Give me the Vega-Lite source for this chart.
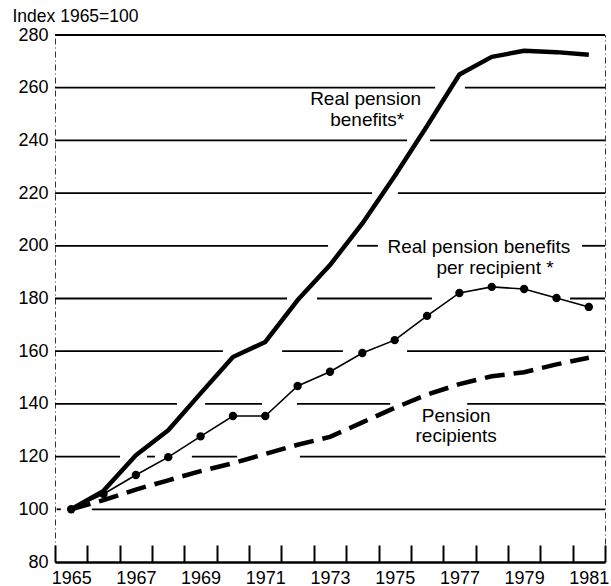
{
  "$schema": "https://vega.github.io/schema/vega-lite/v6.json",
  "width": 550,
  "height": 527,
  "autosize": {"type": "none"},
  "padding": {"left": 55, "top": 35, "right": 6, "bottom": 24},
  "background": "white",
  "config": {
    "view": {"stroke": "#333", "strokeWidth": 1, "strokeDash": [6, 3, 1, 3]},
    "font": "Liberation Sans"
  },
  "datasets": {
    "grid": [
      {"value": 100, "from": 1964.55, "to": 1964.68},
      {"value": 100, "from": 1965.64, "to": 1981.5},
      {"value": 120, "from": 1964.5, "to": 1966.51},
      {"value": 120, "from": 1967.34, "to": 1967.59},
      {"value": 120, "from": 1968.73, "to": 1970.13},
      {"value": 120, "from": 1972.07, "to": 1981.5},
      {"value": 140, "from": 1964.5, "to": 1968.27},
      {"value": 140, "from": 1969.14, "to": 1970.9},
      {"value": 140, "from": 1971.98, "to": 1974.86},
      {"value": 140, "from": 1977.24, "to": 1981.5},
      {"value": 160, "from": 1964.5, "to": 1969.69},
      {"value": 160, "from": 1971.52, "to": 1973.4},
      {"value": 160, "from": 1975.38, "to": 1981.5},
      {"value": 180, "from": 1964.5, "to": 1971.67},
      {"value": 180, "from": 1972.6, "to": 1976.15},
      {"value": 180, "from": 1980.42, "to": 1981.5},
      {"value": 200, "from": 1964.5, "to": 1972.94},
      {"value": 200, "from": 1973.84, "to": 1974.48},
      {"value": 200, "from": 1980.79, "to": 1981.5},
      {"value": 220, "from": 1964.5, "to": 1974.3},
      {"value": 220, "from": 1975.1, "to": 1981.5},
      {"value": 240, "from": 1964.5, "to": 1975.38},
      {"value": 240, "from": 1976.09, "to": 1981.5},
      {"value": 260, "from": 1964.5, "to": 1976.25},
      {"value": 260, "from": 1977.17, "to": 1981.5},
      {"value": 280, "from": 1964.5, "to": 1981.5}
    ],
    "series": [
      {"year": 1965, "series": "benefits", "value": 100},
      {"year": 1966, "series": "benefits", "value": 107},
      {"year": 1967, "series": "benefits", "value": 120.5},
      {"year": 1968, "series": "benefits", "value": 130},
      {"year": 1969, "series": "benefits", "value": 144},
      {"year": 1970, "series": "benefits", "value": 157.8},
      {"year": 1971, "series": "benefits", "value": 163.5},
      {"year": 1972, "series": "benefits", "value": 179.4},
      {"year": 1973, "series": "benefits", "value": 192.7},
      {"year": 1974, "series": "benefits", "value": 208.5},
      {"year": 1975, "series": "benefits", "value": 226.5},
      {"year": 1976, "series": "benefits", "value": 245.5},
      {"year": 1977, "series": "benefits", "value": 265},
      {"year": 1978, "series": "benefits", "value": 271.7},
      {"year": 1979, "series": "benefits", "value": 274},
      {"year": 1980, "series": "benefits", "value": 273.5},
      {"year": 1981, "series": "benefits", "value": 272.5},
      {"year": 1965, "series": "perRecipient", "value": 100},
      {"year": 1966, "series": "perRecipient", "value": 105.8},
      {"year": 1967, "series": "perRecipient", "value": 113},
      {"year": 1968, "series": "perRecipient", "value": 119.8},
      {"year": 1969, "series": "perRecipient", "value": 127.7},
      {"year": 1970, "series": "perRecipient", "value": 135.4},
      {"year": 1971, "series": "perRecipient", "value": 135.4},
      {"year": 1972, "series": "perRecipient", "value": 146.8},
      {"year": 1973, "series": "perRecipient", "value": 152.2},
      {"year": 1974, "series": "perRecipient", "value": 159.3},
      {"year": 1975, "series": "perRecipient", "value": 164.2},
      {"year": 1976, "series": "perRecipient", "value": 173.4},
      {"year": 1977, "series": "perRecipient", "value": 182.1},
      {"year": 1978, "series": "perRecipient", "value": 184.4},
      {"year": 1979, "series": "perRecipient", "value": 183.6},
      {"year": 1980, "series": "perRecipient", "value": 180.2},
      {"year": 1981, "series": "perRecipient", "value": 176.8},
      {"year": 1965, "series": "recipients", "value": 100},
      {"year": 1966, "series": "recipients", "value": 103.5},
      {"year": 1967, "series": "recipients", "value": 107.5},
      {"year": 1968, "series": "recipients", "value": 111},
      {"year": 1969, "series": "recipients", "value": 114.5},
      {"year": 1970, "series": "recipients", "value": 117.5},
      {"year": 1971, "series": "recipients", "value": 121},
      {"year": 1972, "series": "recipients", "value": 124.5},
      {"year": 1973, "series": "recipients", "value": 127.5},
      {"year": 1974, "series": "recipients", "value": 133},
      {"year": 1975, "series": "recipients", "value": 138.5},
      {"year": 1976, "series": "recipients", "value": 143.5},
      {"year": 1977, "series": "recipients", "value": 147.5},
      {"year": 1978, "series": "recipients", "value": 150.5},
      {"year": 1979, "series": "recipients", "value": 152},
      {"year": 1980, "series": "recipients", "value": 155},
      {"year": 1981, "series": "recipients", "value": 157.5}
    ],
    "labels": [
      {"year": 1974.1, "value": 255.7, "label": "Real pension"},
      {"year": 1974.15, "value": 247.7, "label": "benefits*"},
      {"year": 1977.6, "value": 199.5, "label": "Real pension benefits"},
      {"year": 1978.1, "value": 191.6, "label": "per recipient *"},
      {"year": 1976.9, "value": 135.4, "label": "Pension"},
      {"year": 1976.9, "value": 127.8, "label": "recipients"}
    ]
  },
  "resolve": {"axis": {"x": "independent"}},
  "layer": [
    {
      "data": {"name": "grid"},
      "mark": {"type": "rule", "color": "black", "strokeWidth": 1.8},
      "encoding": {
        "x": {
          "field": "from", "type": "quantitative",
          "scale": {"domain": [1964.5, 1981.5], "nice": false, "zero": false},
          "axis": {
            "orient": "bottom",
            "values": [1964.5, 1965.5, 1966.5, 1967.5, 1968.5, 1969.5, 1970.5, 1971.5, 1972.5, 1973.5, 1974.5, 1975.5, 1976.5, 1977.5, 1978.5, 1979.5, 1980.5, 1981.5],
            "tickSize": -17, "tickWidth": 2, "tickColor": "black",
            "domainColor": "black", "domainWidth": 2.5,
            "labels": false, "grid": false, "title": null
          }
        },
        "x2": {"field": "to"},
        "y": {
          "field": "value", "type": "quantitative",
          "scale": {"domain": [80, 280], "nice": false, "zero": false},
          "axis": {
            "values": [80, 100, 120, 140, 160, 180, 200, 220, 240, 260, 280],
            "grid": false, "domain": false, "ticks": false, "tickSize": 0,
            "labelPadding": 7, "labelFontSize": 18, "labelFont": "Liberation Sans", "labelColor": "black",
            "title": "Index 1965=100", "titleAngle": 0, "titleAlign": "left", "titleBaseline": "alphabetic",
            "titleX": -43, "titleY": -14, "titleFontSize": 17.5, "titleFontWeight": "normal",
            "titleFont": "Liberation Sans", "titleColor": "black"
          }
        }
      }
    },
    {
      "data": {"name": "series"},
      "transform": [{"filter": "datum.series == 'benefits'"}],
      "mark": {"type": "line", "color": "black", "strokeWidth": 4.5, "strokeJoin": "round"},
      "encoding": {
        "x": {
          "field": "year", "type": "quantitative",
          "axis": {
            "orient": "bottom",
            "values": [1965, 1967, 1969, 1971, 1973, 1975, 1977, 1979, 1981],
            "format": "d", "ticks": false, "tickSize": 0, "domain": false, "grid": false,
            "labelPadding": 7, "labelFontSize": 18, "labelFont": "Liberation Sans", "labelColor": "black",
            "labelOverlap": false, "labelFlush": false, "labelBound": false, "title": null
          }
        },
        "y": {"field": "value", "type": "quantitative"}
      }
    },
    {
      "data": {"name": "series"},
      "transform": [{"filter": "datum.series == 'recipients'"}],
      "mark": {"type": "line", "color": "black", "strokeWidth": 4.5, "strokeDash": [20, 9]},
      "encoding": {
        "x": {"field": "year", "type": "quantitative", "axis": null},
        "y": {"field": "value", "type": "quantitative"}
      }
    },
    {
      "data": {"name": "series"},
      "transform": [{"filter": "datum.series == 'perRecipient'"}],
      "mark": {"type": "line", "color": "black", "strokeWidth": 1.6},
      "encoding": {
        "x": {"field": "year", "type": "quantitative", "axis": null},
        "y": {"field": "value", "type": "quantitative"}
      }
    },
    {
      "data": {"name": "series"},
      "transform": [{"filter": "datum.series == 'perRecipient'"}],
      "mark": {"type": "point", "filled": true, "color": "black", "size": 70, "opacity": 1},
      "encoding": {
        "x": {"field": "year", "type": "quantitative", "axis": null},
        "y": {"field": "value", "type": "quantitative"}
      }
    },
    {
      "data": {"name": "labels"},
      "mark": {"type": "text", "align": "center", "baseline": "middle", "fontSize": 19, "font": "Liberation Sans", "color": "black"},
      "encoding": {
        "x": {"field": "year", "type": "quantitative", "axis": null},
        "y": {"field": "value", "type": "quantitative"},
        "text": {"field": "label"}
      }
    }
  ]
}
